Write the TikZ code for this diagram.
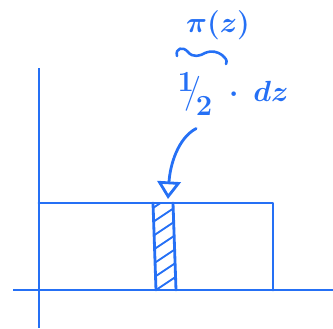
\documentclass[tikz,border=0pt]{standalone}
\usepackage{amsmath}
\usepackage{xcolor}
\usetikzlibrary{positioning,arrows.meta,calc}
\definecolor{ink}{HTML}{2570F5}

\begin{document}
\begin{tikzpicture}[
  x=0.03cm, y=-0.03cm,
  pen/.style={draw=ink, line width=2.4pt, line cap=round, line join=round},
  axis/.style={draw=ink, line width=2.2pt},
  hatch/.style={draw=ink, line width=1.6pt},
  lbl/.style={text=ink, inner sep=1pt}
]
  \useasboundingbox (0,0) rectangle (333,328);

  % --- axes ---
  \coordinate (ybot) at (39,328);
  \coordinate (ytop) at (39,68);
  \coordinate (xl) at (13,290);
  \coordinate (xr) at (333,290);
  \draw[axis] (ybot) -- (ytop);
  \draw[axis] (xl) -- (xr);

  % --- density box ---
  \coordinate (tl) at (39,203);
  \coordinate (tr) at (273,203);
  \coordinate (br) at (273,290);
  \draw[pen] (tl) -- (tr) -- (br);

  % --- strip dz ---
  \coordinate (s1) at (156,290);
  \coordinate (s2) at (153,203);
  \coordinate (s3) at (173,203);
  \coordinate (s4) at (176,290);
  \begin{scope}
    \clip (s1) -- (s2) -- (s3) -- (s4) -- cycle;
    \foreach \k in {0,...,8} {\draw[hatch] (150,210+\k*14) -- (180,190+\k*14);}
  \end{scope}
  \draw[pen] (s1) -- (s2) (s3) -- (s4);

  % --- labels ---
  \node[lbl, font=\fontsize{40}{40}\selectfont\boldmath] (area) at (233,94)
    {$\raisebox{0.2em}{$1$}\mkern-5mu\big/\mkern-3mu\raisebox{-0.3em}{$2$}\mkern5mu\cdot\mkern4mu dz$};
  \node[lbl, font=\fontsize{24}{24}\selectfont\boldmath] (pz) at (218,25) {$\pi(z)$};
  \draw[pen, line width=2.2pt] (177,56) .. controls (175,48) and (183,46) .. (188,52)
    .. controls (193,58) and (200,56) .. (205,53)
    .. controls (212,50) and (218,52) .. (222,55)
    .. controls (225,58) and (228,60) .. (226,64);

  % --- arrow ---
  \coordinate (tip) at (168,199);
  \coordinate (start) at ($(area.south west)+(20,12)$);
  \draw[pen, -{Triangle[open, length=15pt, width=20pt, line width=2.4pt]}]
    (start) .. controls (178,138) and (170,165) .. (tip);
\end{tikzpicture}
\end{document}
